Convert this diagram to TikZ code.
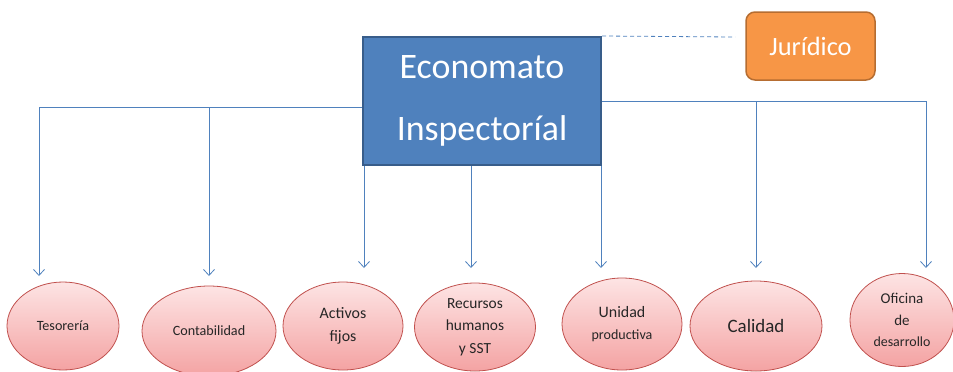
\documentclass[tikz,border=0pt]{standalone}
\usepackage{fontspec}
\setmainfont{Carlito}
\usetikzlibrary{shapes.geometric,arrows.meta}
\definecolor{lineblue}{HTML}{4F81BD}
\definecolor{boxblue}{HTML}{4F81BD}
\definecolor{boxborder}{HTML}{385D8A}
\definecolor{orfill}{HTML}{F79646}
\definecolor{orborder}{HTML}{B66D31}
\definecolor{pinktop}{HTML}{FDE4E4}
\definecolor{pinkbot}{HTML}{F4A3A3}
\definecolor{pinkborder}{HTML}{C0504D}
\definecolor{txt}{HTML}{262626}
\tikzset{
  mainbox/.style={draw=boxborder, line width=2bp, fill=boxblue, text=white, inner sep=0pt,
    minimum width=238bp, minimum height=128bp, align=center,
    font=\fontsize{36}{62}\selectfont},
  jurbox/.style={draw=orborder, line width=1.5bp, fill=orfill, text=white, rounded corners=9bp,
    inner sep=0pt, minimum width=129bp, minimum height=68bp, font=\fontsize{26.5}{30}\selectfont},
  ell/.style={ellipse, draw=pinkborder, line width=0.8bp, top color=pinktop, bottom color=pinkbot,
    inner sep=0pt, align=center, text=txt, font=\fontsize{16}{22.5}\selectfont},
  conn/.style={draw=lineblue, line width=0.8bp},
  arr/.style={conn, -{Straight Barb[length=6bp,width=11bp]}},
  dashline/.style={draw=lineblue, line width=0.8bp, dash pattern=on 4bp off 3bp}
}
\begin{document}
\begin{tikzpicture}[x=1bp,y=-1bp]
\useasboundingbox (0,0) rectangle (953,371);
% nodes
\node[mainbox] (main) at (482,101) {Economato\\Inspectoríal};
\node[jurbox] (jur) at (810.5,46) {Jurídico};

\node[ell, minimum width=112bp, minimum height=88bp, font=\fontsize{14.2}{18}\selectfont] (tes) at (63,326) {Tesorería};
\node[ell, minimum width=134bp, minimum height=90bp, font=\fontsize{14.2}{18}\selectfont] (con) at (209,331) {Contabilidad};
\node[ell, minimum width=120bp, minimum height=88bp] (act) at (343,326) {Activos\\fijos};
\node[ell, minimum width=121bp, minimum height=88bp, font=\fontsize{15.5}{22.5}\selectfont] (rec) at (475,327) {Recursos\\humanos\\y SST};
\node[ell, minimum width=120bp, minimum height=92bp] (uni) at (622,324) {Unidad\\[-1bp]{\fontsize{14.1}{18}\selectfont productiva}};
\node[ell, minimum width=132bp, minimum height=90bp, font=\fontsize{19}{22}\selectfont] (cal) at (756,326) {Calidad};
\node[ell, minimum width=104bp, minimum height=93bp, font=\fontsize{15}{21.5}\selectfont] (ofi) at (902,320) {Oficina\\de\\{\fontsize{14}{18}\selectfont desarrollo}};

% arrow ends
\coordinate (tTes) at (39,276);
\coordinate (tCon) at (209,276);
\coordinate (tAct) at (364,268);
\coordinate (tRec) at (471,268);
\coordinate (tUni) at (601,268);
\coordinate (tCal) at (756,268);
\coordinate (tOfi) at (926,268);
\coordinate (hL) at (200,107);
\coordinate (hR) at (700,101);
\coordinate (dEnd) at (735,37);

% connectors
\draw[arr] (main.west |- hL) -| (tTes);
\draw[arr] (tCon |- hL) -- (tCon);
\draw[arr] (main.south -| tAct) -- (tAct);
\draw[arr] (main.south -| tRec) -- (tRec);
\draw[arr] (main.south -| tUni) -- (tUni);
\draw[arr] (main.east |- hR) -| (tOfi);
\draw[arr] (tCal |- hR) -- (tCal);
\draw[dashline] (main.north east) -- (dEnd);
\end{tikzpicture}
\end{document}
